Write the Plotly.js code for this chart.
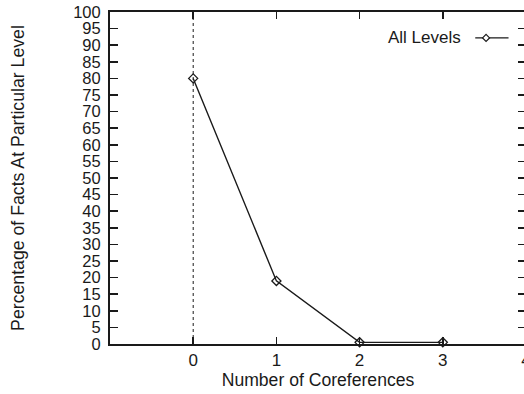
<!DOCTYPE html>
<html>
<head>
<meta charset="utf-8">
<script src="https://cdn.plot.ly/plotly-3.0.1.min.js"></script>
<style>html,body{margin:0;padding:0;background:#fff;overflow:hidden;}#chart{width:528px;height:394px;}</style>
</head>
<body>
<div id="chart"></div>
<script>
const coreferences = [0, 1, 2, 3];
const percentAllLevels = [80, 19, 0.5, 0.5];
const seriesName = "All Levels";
const xTicks = [0, 1, 2, 3, 4];
const yTicks = [0,5,10,15,20,25,30,35,40,45,50,55,60,65,70,75,80,85,90,95,100];
const zeroLineX = 0;

const FONT = "Liberation Sans, Arial, Helvetica, sans-serif";
const INK = "#1a1a1a";

const trace = {
  x: coreferences, y: percentAllLevels, name: seriesName,
  type: "scatter", mode: "lines+markers",
  line: {color: INK, width: 1.4},
  marker: {symbol: "diamond-open", size: 7, color: INK, line: {width: 1.3, color: INK}},
  showlegend: false, cliponaxis: false
};

// legend sample placement (paper coords)
const lgY = 0.922;
const lx0 = 0.878, lx1 = 0.958, lmx = 0.904;

const layout = {
  width: 528, height: 394,
  margin: {l: 110, r: 2, t: 12, b: 50},
  paper_bgcolor: "#fff", plot_bgcolor: "#fff",
  font: {family: FONT, size: 17, color: INK},
  xaxis: {
    range: [-1, 4], tickvals: xTicks, ticktext: xTicks.map(String),
    ticks: "inside", ticklen: 7, tickwidth: 1.5, tickcolor: INK,
    showline: true, linewidth: 2, linecolor: INK, mirror: "ticks",
    showgrid: false, zeroline: false, ticklabeloverflow: "allow",
    tickfont: {family: FONT, size: 17, color: INK},
    title: {text: "Number of Coreferences", font: {family: FONT, size: 17.6, color: INK}, standoff: 1}
  },
  yaxis: {
    range: [0, 100], tickvals: yTicks, ticktext: yTicks.map(String),
    ticks: "inside", ticklen: 8, tickwidth: 1.5, tickcolor: INK,
    showline: true, linewidth: 2, linecolor: INK, mirror: "ticks",
    showgrid: false, zeroline: false, ticklabelstandoff: 4,
    tickfont: {family: FONT, size: 16.5, color: INK},
    title: {text: "Percentage of Facts At Particular Level", font: {family: FONT, size: 17.7, color: INK}, standoff: 44}
  },
  shapes: [
    {type: "line", xref: "x", yref: "paper", x0: zeroLineX, x1: zeroLineX, y0: 0, y1: 1,
     line: {color: INK, width: 1, dash: "dot"}, layer: "below"},
    {type: "line", xref: "paper", yref: "paper", x0: lx0, x1: lx1, y0: lgY, y1: lgY,
     line: {color: INK, width: 1.3}},
    {type: "path", xref: "paper", yref: "paper", xsizemode: "pixel", ysizemode: "pixel",
     xanchor: lmx, yanchor: lgY,
     path: "M 0 3.5 L 3.5 0 L 0 -3.5 L -3.5 0 Z",
     fillcolor: "#fff", line: {color: INK, width: 1.2}}
  ],
  annotations: [
    {xref: "paper", yref: "paper", x: 0.848, y: lgY, xanchor: "right", yanchor: "middle",
     text: seriesName, showarrow: false, font: {family: FONT, size: 17, color: INK}}
  ]
};

Plotly.newPlot("chart", [trace], layout, {displayModeBar: false, staticPlot: true});
</script>
</body>
</html>
